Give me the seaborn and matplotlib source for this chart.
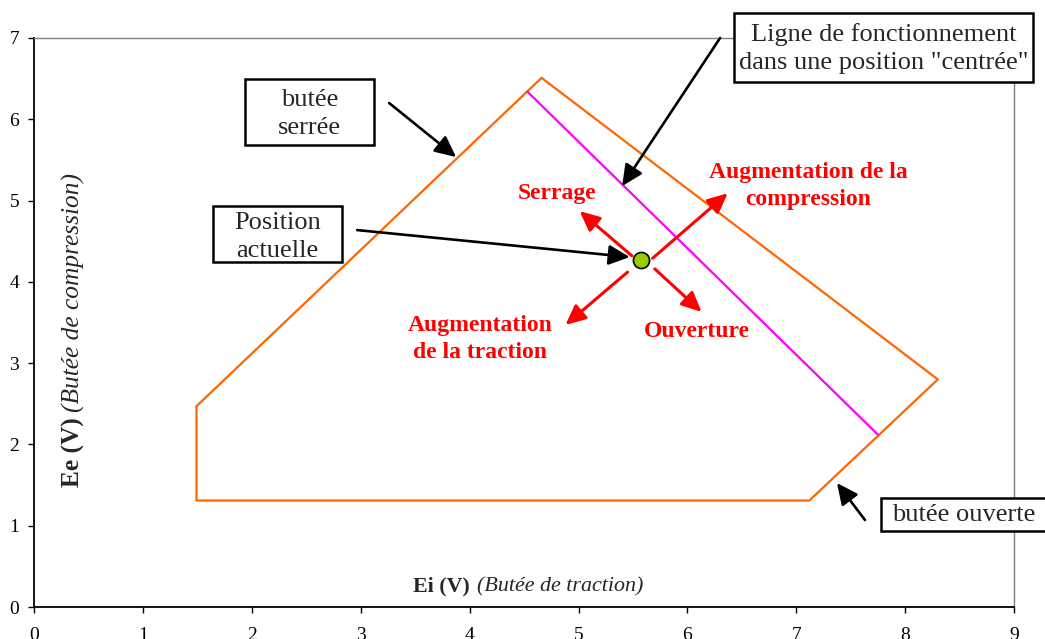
import matplotlib
matplotlib.use("Agg")
import matplotlib.pyplot as plt
from matplotlib.patches import Rectangle
import numpy as np
import pandas as pd
import seaborn as sns

# Operating envelope of the stop (Ei, Ee in volts), closed polygon
envelope_ei = [1.49, 4.66, 8.30, 7.12, 1.49, 1.49]
envelope_ee = [2.47, 6.51, 2.80, 1.31, 1.31, 2.47]

# Operating line in the "centred" position
centre_ei = [4.53, 7.75]
centre_ee = [6.34, 2.12]

# Current operating point
current_ei = [5.57]
current_ee = [4.27]

x_ticks = list(range(0, 10))
y_ticks = list(range(0, 8))

sns.set_theme(style="white")
plt.rcParams["font.family"] = ["Liberation Serif", "DejaVu Serif"]

fig = plt.figure(figsize=(10.45, 6.39), dpi=100)
ax = fig.add_axes([34.3 / 1045, 1 - 607 / 639, (1014 - 34.3) / 1045, (607 - 38) / 639])

env = pd.DataFrame({"Ei": envelope_ei, "Ee": envelope_ee})
sns.lineplot(data=env, x="Ei", y="Ee", sort=False, estimator=None,
             color="#FF6600", linewidth=1.6, ax=ax)
ctr = pd.DataFrame({"Ei": centre_ei, "Ee": centre_ee})
sns.lineplot(data=ctr, x="Ei", y="Ee", sort=False, estimator=None,
             color="#FF00FF", linewidth=1.6, ax=ax)

ax.set_xlim(0, 9)
ax.set_ylim(0, 7)
ax.set_xticks(x_ticks)
ax.set_yticks(y_ticks)
ax.set_xlabel("")
ax.set_ylabel("")
ax.tick_params(axis="both", direction="out", length=4.3, width=1.0,
               color="black", labelsize=14, labelcolor="black")
ax.tick_params(axis="x", pad=10.0, bottom=True)
ax.tick_params(axis="y", pad=6.5, left=True)

for side in ("top", "right"):
    ax.spines[side].set_color("#808080")
    ax.spines[side].set_linewidth(1.0)
for side in ("left", "bottom"):
    ax.spines[side].set_color("black")
    ax.spines[side].set_linewidth(1.3)

# Axis titles, drawn inside the plotting area
ax.text(4.00, 0.185, "Ei (V)", fontsize=15.8, fontweight="bold",
        ha="right", va="baseline")
ax.text(4.065, 0.185, "(Butée de traction)", fontsize=15.8, fontstyle="italic",
        ha="left", va="baseline")
ax.text(0.413, 2.34, "Ee (V)", fontsize=18.3, fontweight="bold", rotation=90,
        rotation_mode="anchor", ha="right", va="baseline")
ax.text(0.413, 2.40, "(Butée de compression)", fontsize=18.3, fontstyle="italic",
        rotation=90, rotation_mode="anchor", ha="left", va="baseline")

# Red direction arrows around the current point
red = "#FF0000"
red_arrows = [
    ((5.49, 4.32), (5.01, 4.87)),   # Serrage
    ((5.68, 4.29), (6.37, 5.09)),   # compression
    ((5.45, 4.12), (4.88, 3.47)),   # traction
    ((5.70, 4.16), (6.13, 3.63)),   # Ouverture
]
for tail, head in red_arrows:
    ax.annotate("", xy=head, xytext=tail,
                arrowprops=dict(arrowstyle="-|>,head_length=0.75,head_width=0.35",
                                color=red, lw=2.2, shrinkA=0, shrinkB=0,
                                mutation_scale=16))

red_font = dict(color=red, fontsize=17, fontweight="bold", ha="center", va="center")
ax.text(4.806, 5.09, "Serrage", **red_font)
ax.text(7.107, 5.178, "Augmentation de la\ncompression", linespacing=1.4, **red_font)
ax.text(4.094, 3.30, "Augmentation\nde la traction", linespacing=1.4, **red_font)
ax.text(6.088, 3.395, "Ouverture", **red_font)

# Black callout arrows
black_arrows = [
    ((3.26, 6.20), (3.875, 5.535)),
    ((2.966, 4.637), (5.47, 4.305)),
    ((6.30, 7.00), (5.40, 5.178)),
    ((7.631, 1.070), (7.374, 1.525)),
]
for tail, head in black_arrows:
    ax.annotate("", xy=head, xytext=tail, annotation_clip=False,
                arrowprops=dict(arrowstyle="-|>,head_length=0.8,head_width=0.38",
                                color="black", lw=1.9, shrinkA=0, shrinkB=0,
                                mutation_scale=16))

sns.scatterplot(x=current_ei, y=current_ee, s=135, color="#99CC00",
                edgecolor="black", linewidth=1.2, zorder=5, ax=ax, legend=False)

# Callout boxes
boxes = [
    ((1.936, 5.683), 3.121 - 1.936, 6.494 - 5.683, (2.528, 6.07), "butée\nserrée"),
    ((1.642, 4.244), 2.827 - 1.642, 4.932 - 4.244, (2.235, 4.55), "Position\nactuelle"),
    ((6.427, 6.458), 9.174 - 6.427, 7.306 - 6.458, (7.80, 6.87),
     "Ligne de fonctionnement\ndans une position \"centrée\""),
    ((7.778, 0.935), 9.40 - 7.778, 1.341 - 0.935, (8.54, 1.13), "butée ouverte"),
]
for (x0, y0), w, h, (tx, ty), label in boxes:
    rect = Rectangle((x0, y0), w, h, facecolor="white", edgecolor="black",
                     linewidth=1.8, clip_on=False, zorder=6)
    ax.add_patch(rect)
    ax.text(tx, ty, label, fontsize=19, ha="center", va="center",
            linespacing=1.36, zorder=7, clip_on=False)

fig.savefig("out.png", dpi=100)
